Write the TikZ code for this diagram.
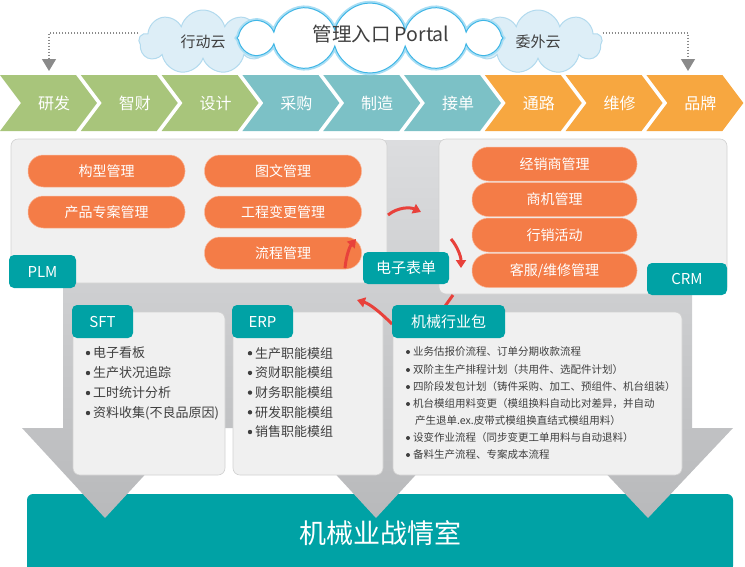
\documentclass[tikz,border=0pt]{standalone}
\usepackage{fontspec}
\setmainfont{Noto Sans CJK SC}
\usetikzlibrary{shapes.symbols,arrows.meta}

\definecolor{tealc}{HTML}{00A2A5}
\definecolor{pillc}{HTML}{F47C47}
\definecolor{panelc}{HTML}{F0F0F0}
\definecolor{greenc}{HTML}{A8C57B}
\definecolor{bluec}{HTML}{7CC1C6}
\definecolor{orangec}{HTML}{F7A740}
\definecolor{redc}{HTML}{E8413B}
\definecolor{textc}{HTML}{3F3F3F}
\definecolor{bgtop}{HTML}{DCDDDF}
\definecolor{bgbot}{HTML}{B8B9BB}
\definecolor{dotc}{HTML}{8A8A8A}
\definecolor{cloudfill}{HTML}{DDEEF7}
\definecolor{cloudedge}{HTML}{B2DAEE}
\definecolor{cloudline}{HTML}{3FB6E6}
\definecolor{cloudglow}{HTML}{A9DEF4}

\begin{document}
\begin{tikzpicture}[x=1pt, y=-1pt,
  panel/.style={draw=black!18, fill=panelc, rounded corners=7pt, line width=0.6pt, inner sep=0pt},
  tab/.style={fill=tealc, text=white, rounded corners=5pt, inner sep=0pt, font=\fontsize{15}{18}\selectfont},
  pill/.style={fill=pillc, draw=pillc!55!white, line width=0.5pt, inner sep=0pt, text=white, font=\fontsize{14}{17}\selectfont},
  chevtext/.style={text=white, font=\fontsize{16}{19}\selectfont},
  itemtext/.style={text=textc, inner sep=0pt, font=\fontsize{13}{15}\selectfont},
  smalltext/.style={text=textc, inner sep=0pt, font=\fontsize{10.5}{12}\selectfont},
  sidecloud/.style={cloud, cloud puffs=9, cloud ignores aspect, minimum width=128pt, minimum height=64pt, fill=cloudfill, draw=cloudedge, line width=1pt, text=textc, font=\fontsize{15}{18}\selectfont},
  dotarrow/.style={draw=dotc, line width=1.3pt, dash pattern=on 1.3pt off 1.7pt, -{Triangle[width=14pt,length=12pt]}},
  redarrow/.style={draw=redc, line width=3pt, -{Triangle[width=10pt,length=8pt]}},
]
\useasboundingbox (0,0) rectangle (745,566);
\def\chevStep{80.8}
\def\chevTop{75}
\def\chevH{56}
\def\chevW{76}
\def\chevTip{21}
\def\rBullet{2.2}

\node[fill=tealc, rounded corners=6pt, minimum width=706pt, minimum height=78pt, inner sep=0pt, text=white, font=\fontsize{27}{30}\selectfont] (room) at (380,533) {机械业战情室};
\shade[top color=bgtop, bottom color=bgbot] (63,140) -- (692,140) -- (692,428) -- (733,428) -- (648,518) -- (563,428) -- (459,428) -- (376,518) -- (293,428) -- (188,428) -- (105,518) -- (22,428) -- (63,428) -- cycle;

\node[panel, minimum width=376pt, minimum height=144pt] (plm) at (199,211) {};
\node[panel, minimum width=288pt, minimum height=155pt] (crm) at (583,216.5) {};
\node[panel, minimum width=152pt, minimum height=163pt] (sft) at (149,393.5) {};
\node[panel, minimum width=150pt, minimum height=163pt] (erp) at (308,393.5) {};
\node[panel, minimum width=289pt, minimum height=163pt] (mach) at (537.5,393.5) {};

\foreach \name/\px/\py/\lbl in {cfg/106.5/171/构型管理, proj/106.5/212/产品专案管理, doc/283/171/图文管理, eco/283/212/工程变更管理, flow/283/253/流程管理} {
    \node[pill, minimum width=157pt, minimum height=32pt, rounded corners=15.5pt] (\name) at (\px,\py) {\lbl};
}
\foreach \name/\py/\lbl in {dealer/164/{经销商管理}, oppo/199.5/{商机管理}, mkt/235/{行销活动}, svc/270.5/{客服/维修管理}} {
    \node[pill, minimum width=165pt, minimum height=34pt, rounded corners=16.5pt] (\name) at (554.5,\py) {\lbl};
}

\coordinate (r1s) at (388,215);
\coordinate (r1e) at (421,212);
\coordinate (r2s) at (451,239);
\coordinate (r2e) at (461,268);
\coordinate (r3s) at (345,268);
\coordinate (r3e) at (356,239);
\coordinate (r4s) at (392,324);
\coordinate (r4e) at (357,300);
\coordinate (r5s) at (453,295);
\coordinate (r5e) at (443,309);
\draw[redarrow] (r1s) .. controls (398,207) and (410,207) .. (r1e);
\draw[redarrow] (r2s) .. controls (457,246) and (461,256) .. (r2e);
\draw[redarrow] (r3s) .. controls (346,256) and (350,246) .. (r3e);
\draw[redarrow] (r4s) .. controls (380,312) and (370,304) .. (r4e);
\draw[draw=redc, line width=3pt] (r5s) -- (r5e);

\node[tab, minimum width=67pt, minimum height=33pt] (plmtab) at (42.5,271.5) {PLM};
\node[tab, minimum width=80pt, minimum height=32pt] (crmtab) at (687,279) {CRM};
\node[tab, minimum width=86pt, minimum height=32pt] (formtab) at (406,268) {电子表单};
\node[tab, minimum width=61pt, minimum height=33pt] (sfttab) at (102.5,321.5) {SFT};
\node[tab, minimum width=61pt, minimum height=33pt] (erptab) at (262.5,321.5) {ERP};
\node[tab, minimum width=113pt, minimum height=33pt] (machtab) at (448.5,321.5) {机械行业包};

\foreach \t [count=\i] in {{电子看板}, {生产状况追踪}, {工时统计分析}, {资料收集(不良品原因)}} {
    \fill[textc] (88, 333+\i*20) circle[radius=\rBullet] node[itemtext, right=5pt] (sftitem\i) {\t};
}
\foreach \t [count=\i] in {{生产职能模组}, {资财职能模组}, {财务职能模组}, {研发职能模组}, {销售职能模组}} {
    \fill[textc] (250, 333.5+\i*19.7) circle[radius=\rBullet] node[itemtext, right=5pt] (erpitem\i) {\t};
}
\foreach \py/\t [count=\i] in {352/{业务估报价流程、订单分期收款流程}, 370/{双阶主生产排程计划（共用件、选配件计划）}, 387/{四阶段发包计划（铸件采购、加工、预组件、机台组装）}, 404/{机台模组用料变更（模组换料自动比对差异，并自动}, 438/{设变作业流程（同步变更工单用料与自动退料）}, 455/{备料生产流程、专案成本流程}} {
    \fill[textc] (408, \py) circle[radius=2] node[smalltext, right=5pt] (machitem\i) {\t};
}
\node[smalltext, anchor=west] (machitem4b) at (415,421) {产生退单.ex.皮带式模组换直结式模组用料）};

\foreach \lbl/\col [count=\i from 0] in {研发/greenc, 智财/greenc, 设计/greenc, 采购/bluec, 制造/bluec, 接单/bluec, 通路/orangec, 维修/orangec, 品牌/orangec} {
    \fill[\col] (\i*\chevStep, \chevTop) -- ++(\chevW,0) -- ++(\chevTip,\chevH/2) -- ++(-\chevTip,\chevH/2) -- ++(-\chevW,0) -- ++(\chevTip,-\chevH/2) -- cycle;
    \node[chevtext] (chev\i) at (\i*\chevStep+54, \chevTop+\chevH/2) {\lbl};
}

\node[sidecloud] (lcloud) at (203,42) {行动云};
\node[sidecloud] (rcloud) at (538,42) {委外云};
\node[cloud, cloud puffs=12, cloud ignores aspect, minimum width=266pt, minimum height=70pt, fill=white, draw=cloudline, line width=1pt, preaction={draw=cloudglow, line width=4.5pt}] (ccloud) at (370,38) {};
\node[text=textc, font=\fontsize{19.5}{22}\selectfont] (portal) at (381,34) {管理入口 Portal};

\coordinate (ldrop) at (49,71);
\coordinate (rdrop) at (688,71);
\draw[dotarrow] (lcloud.west |- 0,33) -| (ldrop);
\draw[dotarrow] (rcloud.east |- 0,33) -| (rdrop);
\end{tikzpicture}
\end{document}
